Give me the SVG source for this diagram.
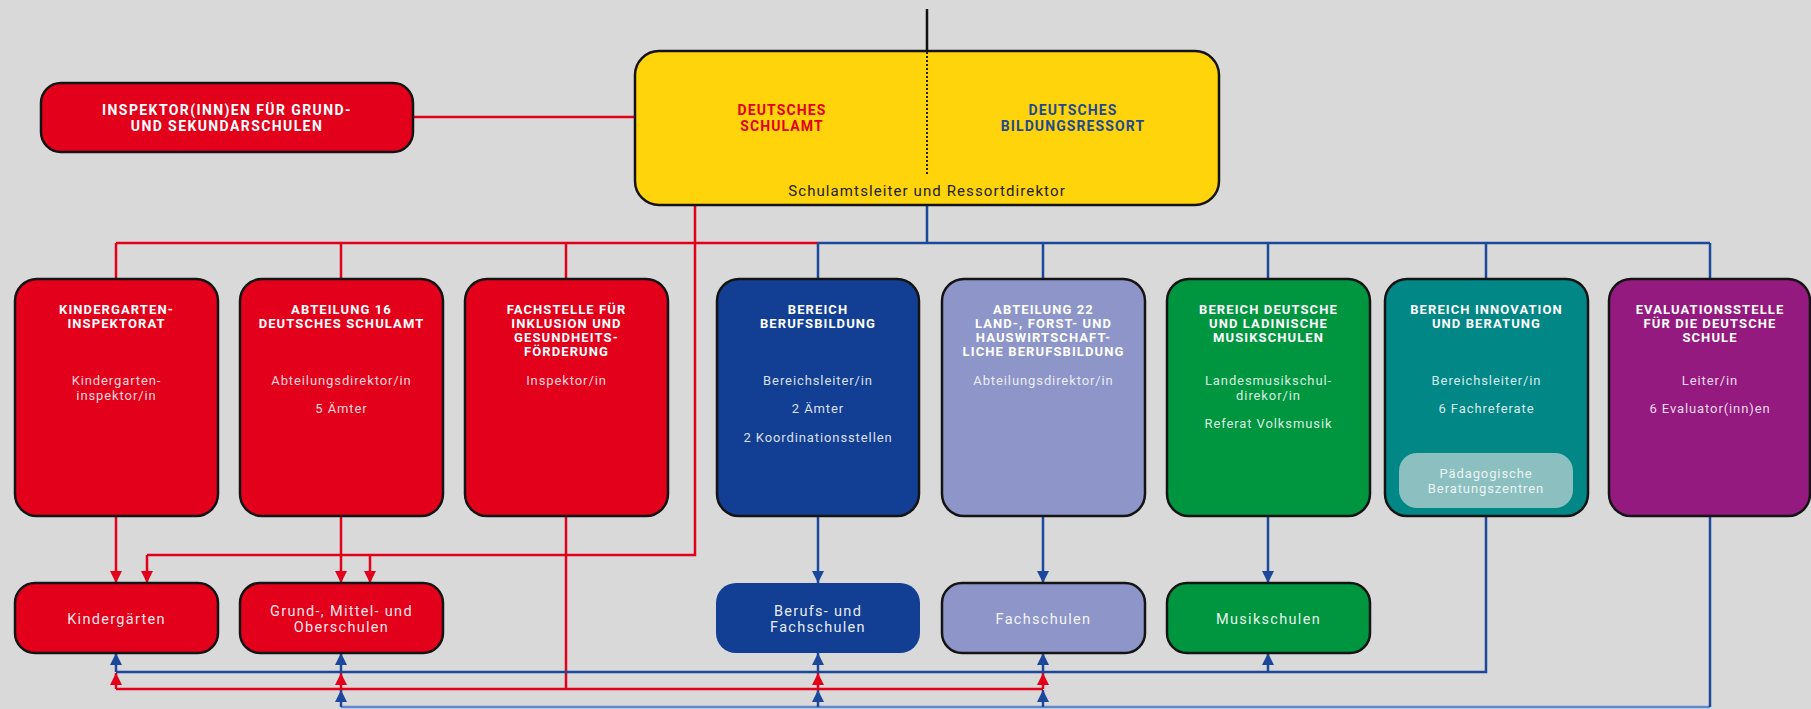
<svg xmlns="http://www.w3.org/2000/svg" width="1811" height="709" viewBox="0 0 1811 709">
<style>
.bx{stroke:#141414;stroke-width:2.5}
.t{font-family:Roboto,"Liberation Sans",sans-serif;font-weight:bold;font-size:13px;fill:#fff;text-anchor:middle;letter-spacing:1.1px}
.s{font-family:Roboto,"Liberation Sans",sans-serif;font-size:13px;fill:#fff;fill-opacity:0.85;text-anchor:middle;letter-spacing:0.9px}
.m{font-family:Roboto,"Liberation Sans",sans-serif;font-size:14.5px;fill:#fff;fill-opacity:0.92;text-anchor:middle;letter-spacing:1.3px}
.r{fill:none;stroke:#e2001a;stroke-width:2.5}
.b{fill:none;stroke:#1b489b;stroke-width:2.5}
.lb{fill:none;stroke:#5f8ad0;stroke-width:2.5}
.red{fill:#e2001a}
</style>
<defs>
<marker id="ar" markerUnits="userSpaceOnUse" markerWidth="12" markerHeight="12" refX="12" refY="6" orient="auto"><path d="M0,0 L12,6 L0,12 z" fill="#e2001a"/></marker>
<marker id="ab" markerUnits="userSpaceOnUse" markerWidth="12" markerHeight="12" refX="12" refY="6" orient="auto"><path d="M0,0 L12,6 L0,12 z" fill="#1b489b"/></marker>
</defs>
<rect width="1811" height="709" fill="#d9d9d9"/>

<g id="connectors">
<path class="r" d="M413 117 H635"/>
<path d="M927 9 V51" fill="none" stroke="#111" stroke-width="2.5"/>
<path class="r" d="M116 243 H818 M116 243 V279 M341 243 V279 M566 243 V279"/>
<path class="b" d="M927 205 V243 M818 243 H1710 M818 243 V279 M1043 243 V279 M1268 243 V279 M1486 243 V279 M1710 243 V279"/>
<path class="r" d="M695 205 V555 H147"/>
<path class="r" d="M147 555 V583" marker-end="url(#ar)"/>
<path class="r" d="M370 555 V583" marker-end="url(#ar)"/>
<path class="r" d="M116 516 V583" marker-end="url(#ar)"/>
<path class="r" d="M341 516 V583" marker-end="url(#ar)"/>
<path class="b" d="M818 516 V583" marker-end="url(#ab)"/>
<path class="b" d="M1043 516 V583" marker-end="url(#ab)"/>
<path class="b" d="M1268 516 V583" marker-end="url(#ab)"/>
<path class="lb" d="M341 707 H1710"/>
<path class="b" d="M1710 516 V707"/>
<path class="b" d="M341 707 V690" marker-end="url(#ab)"/>
<path class="b" d="M818 707 V690" marker-end="url(#ab)"/>
<path class="b" d="M1043 707 V690" marker-end="url(#ab)"/>
<path class="r" d="M566 516 V689 M116 689 H1043"/>
<path class="r" d="M116 689 V673" marker-end="url(#ar)"/>
<path class="r" d="M341 689 V673" marker-end="url(#ar)"/>
<path class="r" d="M818 689 V673" marker-end="url(#ar)"/>
<path class="r" d="M1043 689 V673" marker-end="url(#ar)"/>
<path class="b" d="M1486 516 V672 H116"/>
<path class="b" d="M116 672 V653" marker-end="url(#ab)"/>
<path class="b" d="M341 672 V653" marker-end="url(#ab)"/>
<path class="b" d="M818 672 V653" marker-end="url(#ab)"/>
<path class="b" d="M1043 672 V653" marker-end="url(#ab)"/>
<path class="b" d="M1268 672 V653" marker-end="url(#ab)"/>
</g>

<g id="schulamt">
<rect class="bx" x="635" y="51" width="584" height="154" rx="24" fill="#ffd40a"/>
<path d="M927 52 V176" stroke="#222" stroke-width="2" stroke-dasharray="2 2"/>
<text class="t" x="782" y="115" style="fill:#e2001a;font-size:14px">DEUTSCHES</text>
<text class="t" x="782" y="131" style="fill:#e2001a;font-size:14px">SCHULAMT</text>
<text class="t" x="1073" y="115" style="fill:#1f4a8f;font-size:14px">DEUTSCHES</text>
<text class="t" x="1073" y="131" style="fill:#1f4a8f;font-size:14px">BILDUNGSRESSORT</text>
<text class="m" x="927" y="196" style="fill:#222;fill-opacity:1;font-size:15px;letter-spacing:1.1px">Schulamtsleiter und Ressortdirektor</text>
</g>

<g id="inspektoren">
<rect class="bx red" x="41" y="83" width="372" height="69" rx="20"/>
<text class="t" x="227" y="115" style="font-size:14px;letter-spacing:1.4px">INSPEKTOR(INN)EN FÜR GRUND-</text>
<text class="t" x="227" y="131" style="font-size:14px;letter-spacing:1.4px">UND SEKUNDARSCHULEN</text>
</g>

<g id="kindergarteninspektorat">
<rect class="bx red" x="15" y="279" width="203" height="237" rx="22"/>
<text class="t" x="116.5" y="313.5">KINDERGARTEN-</text>
<text class="t" x="116.5" y="327.5">INSPEKTORAT</text>
<text class="s" x="116.5" y="384.5">Kindergarten-</text>
<text class="s" x="116.5" y="399.5">inspektor/in</text>
</g>

<g id="abteilung16">
<rect class="bx red" x="240" y="279" width="203" height="237" rx="22"/>
<text class="t" x="341.5" y="313.5">ABTEILUNG 16</text>
<text class="t" x="341.5" y="327.5">DEUTSCHES SCHULAMT</text>
<text class="s" x="341.5" y="384.5">Abteilungsdirektor/in</text>
<text class="s" x="341.5" y="412.5">5 Ämter</text>
</g>

<g id="fachstelle">
<rect class="bx red" x="465" y="279" width="203" height="237" rx="22"/>
<text class="t" x="566.5" y="313.5">FACHSTELLE FÜR</text>
<text class="t" x="566.5" y="327.5">INKLUSION UND</text>
<text class="t" x="566.5" y="341.5">GESUNDHEITS-</text>
<text class="t" x="566.5" y="355.5">FÖRDERUNG</text>
<text class="s" x="566.5" y="384.5">Inspektor/in</text>
</g>

<g id="berufsbildung">
<rect class="bx" x="717" y="279" width="202" height="237" rx="22" fill="#123f93"/>
<text class="t" x="818" y="313.5">BEREICH</text>
<text class="t" x="818" y="327.5">BERUFSBILDUNG</text>
<text class="s" x="818" y="384.5">Bereichsleiter/in</text>
<text class="s" x="818" y="412.5">2 Ämter</text>
<text class="s" x="818" y="441.5">2 Koordinationsstellen</text>
</g>

<g id="abteilung22">
<rect class="bx" x="942" y="279" width="203" height="237" rx="22" fill="#8d95c9"/>
<text class="t" x="1043.5" y="313.5">ABTEILUNG 22</text>
<text class="t" x="1043.5" y="327.5">LAND-, FORST- UND</text>
<text class="t" x="1043.5" y="341.5">HAUSWIRTSCHAFT-</text>
<text class="t" x="1043.5" y="355.5">LICHE BERUFSBILDUNG</text>
<text class="s" x="1043.5" y="384.5">Abteilungsdirektor/in</text>
</g>

<g id="musikschulen-bereich">
<rect class="bx" x="1167" y="279" width="203" height="237" rx="22" fill="#00963f"/>
<text class="t" x="1268.5" y="313.5">BEREICH DEUTSCHE</text>
<text class="t" x="1268.5" y="327.5">UND LADINISCHE</text>
<text class="t" x="1268.5" y="341.5">MUSIKSCHULEN</text>
<text class="s" x="1268.5" y="384.5">Landesmusikschul-</text>
<text class="s" x="1268.5" y="399.5">direkor/in</text>
<text class="s" x="1268.5" y="427.5">Referat Volksmusik</text>
</g>

<g id="innovation">
<rect class="bx" x="1385" y="279" width="203" height="237" rx="22" fill="#008786"/>
<text class="t" x="1486.5" y="313.5">BEREICH INNOVATION</text>
<text class="t" x="1486.5" y="327.5">UND BERATUNG</text>
<text class="s" x="1486.5" y="384.5">Bereichsleiter/in</text>
<text class="s" x="1486.5" y="412.5">6 Fachreferate</text>
<rect x="1399" y="453" width="174" height="55" rx="18" fill="#8cc0c0"/>
<text class="s" x="1486" y="477.5">Pädagogische</text>
<text class="s" x="1486" y="492.5">Beratungszentren</text>
</g>

<g id="evaluationsstelle">
<rect class="bx" x="1609" y="279" width="201" height="237" rx="22" fill="#951a80"/>
<text class="t" x="1710" y="313.5">EVALUATIONSSTELLE</text>
<text class="t" x="1710" y="327.5">FÜR DIE DEUTSCHE</text>
<text class="t" x="1710" y="341.5">SCHULE</text>
<text class="s" x="1710" y="384.5">Leiter/in</text>
<text class="s" x="1710" y="412.5">6 Evaluator(inn)en</text>
</g>

<g id="kindergaerten">
<rect class="bx red" x="15" y="583" width="203" height="70" rx="20"/>
<text class="m" x="116.5" y="624">Kindergärten</text>
</g>

<g id="grundschulen">
<rect class="bx red" x="240" y="583" width="203" height="70" rx="20"/>
<text class="m" x="341.5" y="616">Grund-, Mittel- und</text>
<text class="m" x="341.5" y="632">Oberschulen</text>
</g>

<g id="berufsschulen">
<rect x="716" y="583" width="204" height="70" rx="20" fill="#123f93"/>
<text class="m" x="818" y="616">Berufs- und</text>
<text class="m" x="818" y="632">Fachschulen</text>
</g>

<g id="fachschulen">
<rect class="bx" x="942" y="583" width="203" height="70" rx="20" fill="#8d95c9"/>
<text class="m" x="1043.5" y="624">Fachschulen</text>
</g>

<g id="musikschulen">
<rect class="bx" x="1167" y="583" width="203" height="70" rx="20" fill="#00963f"/>
<text class="m" x="1268.5" y="624">Musikschulen</text>
</g>
</svg>
